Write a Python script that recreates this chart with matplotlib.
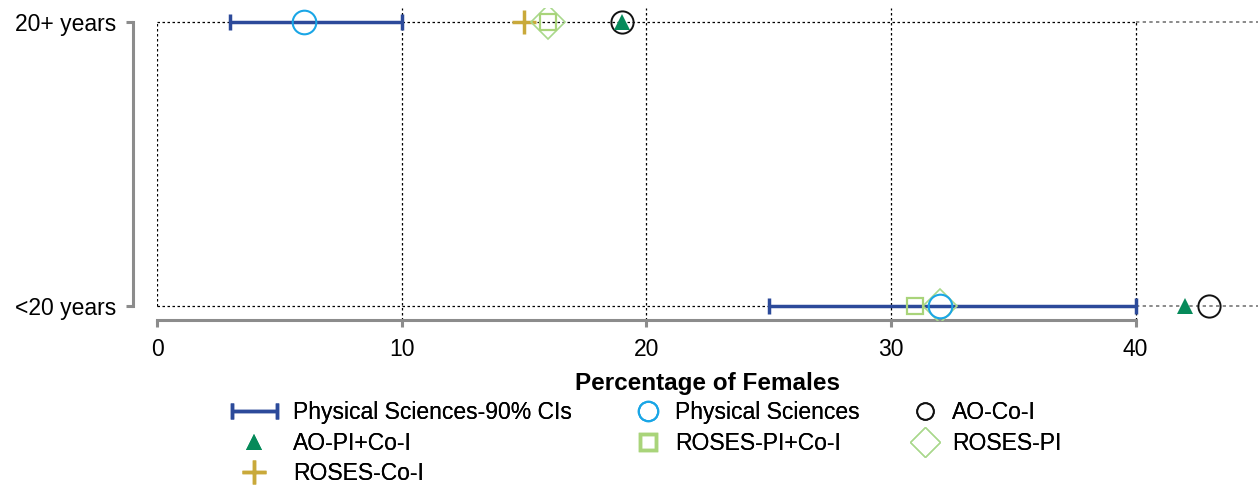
import matplotlib.pyplot as plt
import numpy as np
from matplotlib.lines import Line2D
from matplotlib.legend_handler import HandlerErrorbar
from matplotlib.container import ErrorbarContainer

plt.rcParams["font.family"] = ["Liberation Sans", "DejaVu Sans"]

# categories, bottom to top
groups = ["<20 years", "20+ years"]

ci_low = [25, 3]
ci_high = [40, 10]
phys_sci = [32, 6]
ao_co_i = [43, 19]
ao_pi_co_i = [42, 19]
roses_pi_co_i = [31, 16]
roses_pi = [32, 16]
roses_co_i = [np.nan, 15]
xticks = [0, 10, 20, 30, 40]

C_CI = "#2c4a9a"
C_PHYS = "#1aa6e6"
C_AO_CO = "#111111"
C_AO_PI = "#068a5a"
C_RPC = "#a9d47a"
C_RPI = "#a9d88c"
C_RCO = "#c9a93a"
SPINE = "#8c8c8c"
FS = 16.5

fig = plt.figure(figsize=(12.58, 4.86), dpi=100)
ax = fig.add_axes([157 / 1258, 1 - 320 / 486, 1 - 157 / 1258, 312 / 486])

y = np.arange(len(groups))
ax.set_xlim(0, 45)
ax.set_ylim(-0.05, 1.05)

# dotted reference grid
for xv in xticks:
    top = 1.0 if xv in (0, 40) else 1.05
    bottom = 0.0 if xv == 0 else -0.05
    ax.plot([xv, xv], [bottom, top], color="black", ls=(0, (2, 2)), lw=0.9, zorder=1)
for yv in y:
    ax.plot([0, 40], [yv, yv], color="black", ls=(0, (2, 2)), lw=0.9, zorder=1)
    ax.plot([40, 45], [yv, yv], color="#777777", ls=(0, (2, 2)), lw=1.2, zorder=1)

ci_mid = (np.array(ci_low) + np.array(ci_high)) / 2
ci_err = (np.array(ci_high) - np.array(ci_low)) / 2
ci = ax.errorbar(ci_mid, y, xerr=ci_err, fmt="none", ecolor=C_CI, elinewidth=2.5,
                 capsize=6, capthick=2.5, zorder=3)

ms = 16
ax.plot(roses_co_i, y, ls="none", marker="+", ms=ms + 1, mew=2.5, color=C_RCO, zorder=4)
ax.plot(roses_pi, y, ls="none", marker="D", ms=ms + 1, mew=1.2, mfc="none", mec=C_RPI, zorder=4)
ax.plot(roses_pi_co_i, y, ls="none", marker="s", ms=ms - 4, mew=1.6, mfc="none", mec=C_RPC, zorder=4)
ax.plot(phys_sci, y, ls="none", marker="o", ms=ms + 1, mew=1.5, mfc="none", mec=C_PHYS, zorder=5)
ax.plot(ao_co_i, y, ls="none", marker="o", ms=ms, mew=1.4, mfc="none", mec=C_AO_CO, zorder=5)
ax.plot(ao_pi_co_i, y, ls="none", marker="^", ms=ms - 4, mew=0, color=C_AO_PI, zorder=6)

ax.set_yticks(y)
ax.set_yticklabels(groups)
ax.set_xticks(xticks)
ax.set_xlabel("Percentage of Females", fontsize=17.5, fontweight="bold", labelpad=8)

for s in ["top", "right"]:
    ax.spines[s].set_visible(False)
ax.spines["left"].set_position(("outward", 17))
ax.spines["left"].set_bounds(0, 1)
ax.spines["bottom"].set_bounds(0, 40)
for s in ["left", "bottom"]:
    ax.spines[s].set_color(SPINE)
    ax.spines[s].set_linewidth(2.2)
ax.tick_params(axis="both", colors=SPINE, width=2.2, length=5,
               labelcolor="black", labelsize=FS)
ax.tick_params(axis="y", pad=7)
ax.tick_params(axis="x", pad=8)

# legend: three columns placed separately to follow the source spacing
cols = [
    ([ci,
      Line2D([], [], ls="none", marker="^", ms=12, mew=0, color=C_AO_PI),
      Line2D([], [], ls="none", marker="+", ms=17, mew=2.5, color=C_RCO)],
     ["Physical Sciences-90% CIs", "AO-PI+Co-I", "ROSES-Co-I"], 231, 2.05),
    ([Line2D([], [], ls="none", marker="o", ms=14, mew=1.5, mfc="none", mec=C_PHYS),
      Line2D([], [], ls="none", marker="s", ms=11, mew=2.5, mfc="none", mec=C_RPC)],
     ["Physical Sciences", "ROSES-PI+Co-I"], 637, 1.0),
    ([Line2D([], [], ls="none", marker="o", ms=12, mew=1.3, mfc="none", mec=C_AO_CO),
      Line2D([], [], ls="none", marker="D", ms=15, mew=1.0, mfc="none", mec=C_RPI)],
     ["AO-Co-I", "ROSES-PI"], 914, 1.0),
]
for hs, labs, x0, hl in cols:
    leg = fig.legend(hs, labs, loc="upper left", bbox_to_anchor=(x0 / 1258, 1 - 401 / 486),
                     frameon=False, fontsize=FS, borderpad=0, borderaxespad=0,
                     handlelength=hl, handletextpad=0.65, labelspacing=0.33,
                     handler_map={ErrorbarContainer: HandlerErrorbar(xerr_size=1.0, yerr_size=0.3)})
    fig.add_artist(leg)

fig.savefig("out.png", dpi=100)
